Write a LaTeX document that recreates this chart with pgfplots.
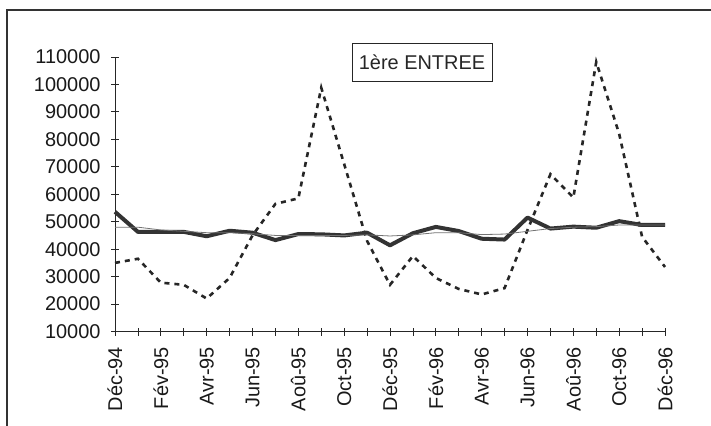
\documentclass[border=0pt]{standalone}
\usepackage{fontspec}
\setmainfont{Liberation Sans}
\usepackage{pgfplots}
\pgfplotsset{compat=1.18}

% raw series (dashed)
\pgfplotstableread{
x y
0 35000
1 36500
2 27800
3 27000
4 22000
5 29500
6 45000
7 56500
8 58500
9 98800
10 71000
11 43000
12 27000
13 37500
14 29500
15 25500
16 23500
17 25800
18 47000
19 67300
20 58800
21 108200
22 82000
23 44500
24 33500
}\brut

% seasonally adjusted (thick)
\pgfplotstableread{
x y
0 53600
1 46300
2 46300
3 46300
4 44700
5 46700
6 46000
7 43300
8 45500
9 45400
10 45000
11 46000
12 41400
13 45800
14 48100
15 46600
16 43800
17 43500
18 51500
19 47500
20 48200
21 47800
22 50200
23 48800
24 48800
}\cvs

% trend (thin)
\pgfplotstableread{
x y
0 48000
1 48000
2 47000
3 46500
4 46000
5 46000
6 45600
7 45000
8 45000
9 45000
10 45000
11 45200
12 44800
13 45200
14 46000
15 46000
16 45300
17 45500
18 46500
19 47500
20 48000
21 48200
22 48800
23 48800
24 48800
}\tendance

\begin{document}
\begin{tikzpicture}[x=1bp,y=1bp]
\useasboundingbox (0,0) rectangle (711,425);
\draw[line width=1.2bp, black!80] (7,-2) -- (7,415) -- (713,415);
\begin{axis}[
  at={(115bp,93.5bp)}, anchor=south west,
  scale only axis, width=550bp, height=274.5bp,
  xmin=0, xmax=24, ymin=10000, ymax=110000,
  axis x line=bottom, axis y line=left,
  axis line style={-, line width=1bp, black!85},
  xtick={0,...,24},
  xticklabels={Déc-94,,Fév-95,,Avr-95,,Jun-95,,Aoû-95,,Oct-95,,Déc-95,,Fév-96,,Avr-96,,Jun-96,,Aoû-96,,Oct-96,,Déc-96},
  ytick={10000,20000,...,110000},
  scaled y ticks=false,
  /pgf/number format/assume math mode=true,
  yticklabel style={/pgf/number format/.cd, fixed, 1000 sep={}},
  tick align=center, major tick length=8bp,
  tick style={black!85, line width=0.8bp},
  ticklabel style={font=\fontsize{20}{20}\selectfont, text=black!90},
  xticklabel style={rotate=90, anchor=east},
  xticklabel shift=8bp, yticklabel shift=7bp,
  clip=false,
]
\addplot[black!85, line width=2.6bp, dash pattern=on 5bp off 5bp] table {\brut};
\addplot[black!80, line width=4bp, line join=round] table {\cvs};
\addplot[black!55, line width=0.8bp] table {\tendance};
\end{axis}
\node[draw, black!85, line width=1bp, minimum width=140bp, minimum height=38bp,
      inner sep=0pt, font=\fontsize{20}{20}\selectfont] at (422,362.5) {1ère ENTREE};
\end{tikzpicture}
\end{document}
